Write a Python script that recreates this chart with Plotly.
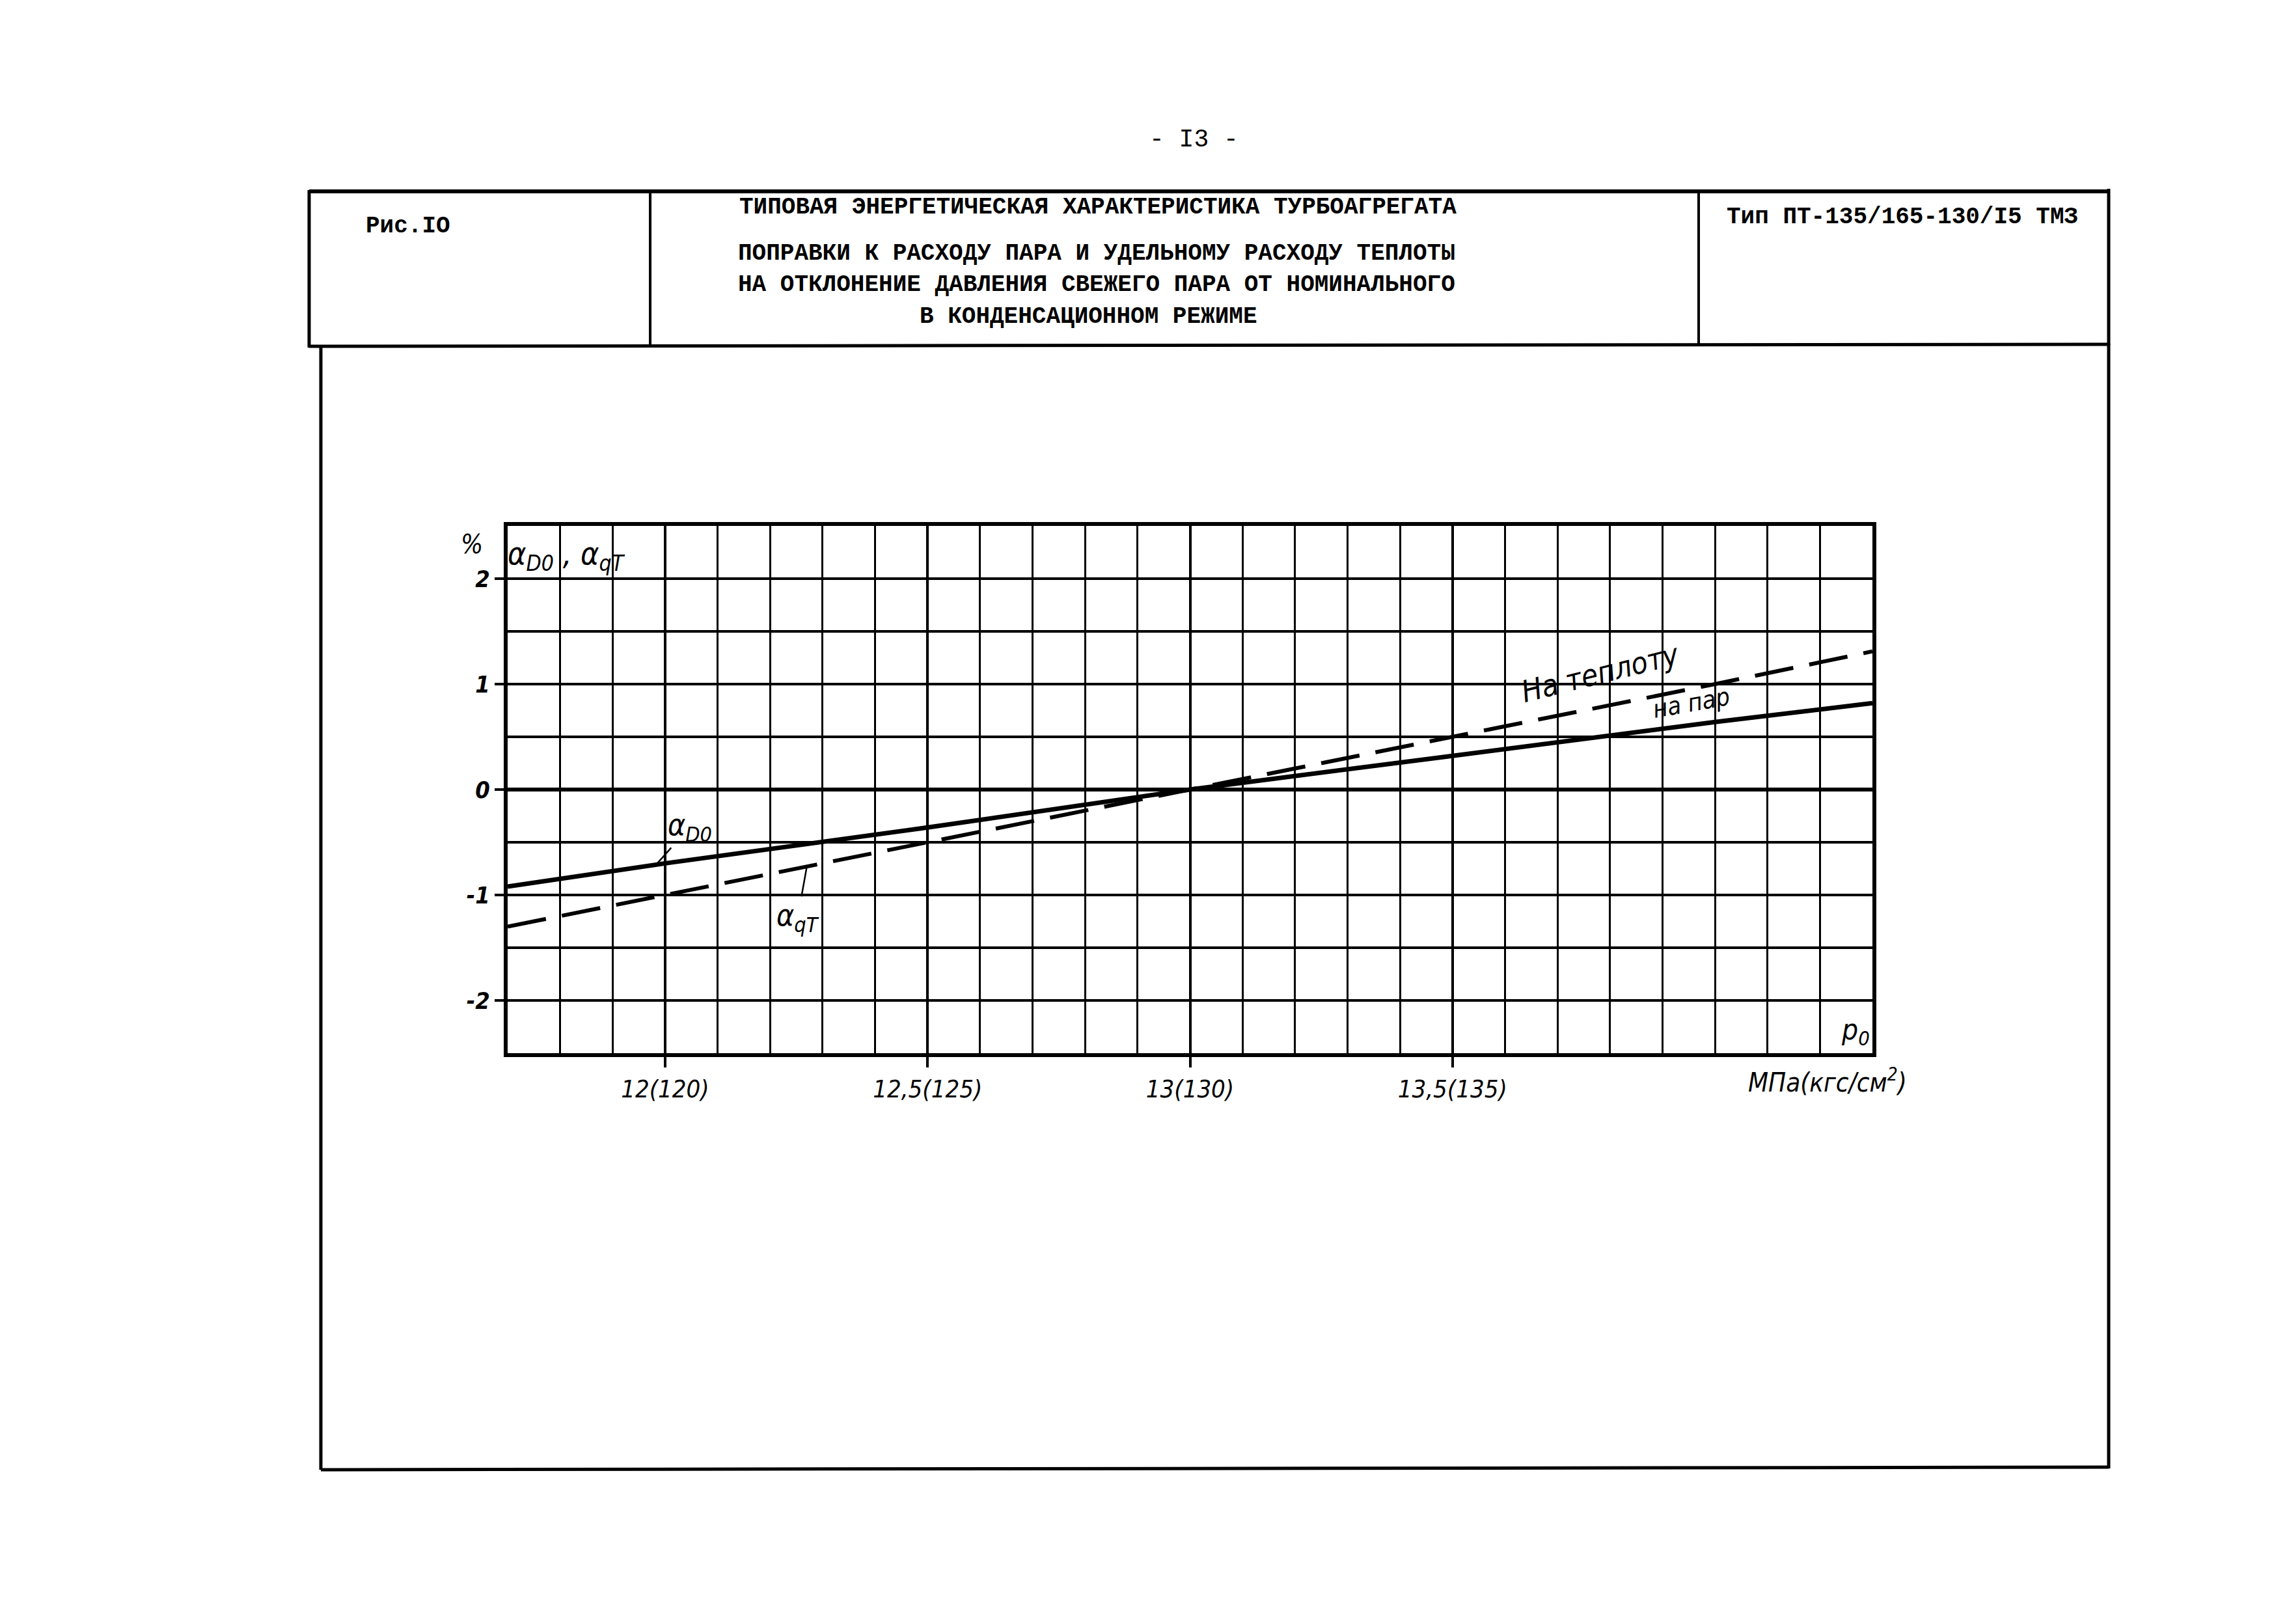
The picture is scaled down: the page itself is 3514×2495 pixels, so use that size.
import plotly.graph_objects as go

# ---------------- data ----------------
pressure = [11.7, 12.0, 12.5, 13.0, 13.5, 14.0, 14.3]          # МПа
alpha_D0 = [-0.92, -0.70, -0.36, 0.0, 0.32, 0.64, 0.82]        # % поправка к расходу пара
alpha_qT = [-1.30, -1.00, -0.50, 0.0, 0.50, 1.00, 1.31]        # % поправка к расходу теплоты

x_tickvals = [12.0, 12.5, 13.0, 13.5]
x_ticktext = ["12(120)", "12,5(125)", "13(130)", "13,5(135)"]
y_tickvals = [-2, -1, 0, 1, 2]
y_ticktext = ["-2", "-1", "0", "1", "2"]

# ---------------- page geometry (pixels) ----------------
W, H = 3514, 2495
L, R, T, B = 772, 2869, 800, 1610


def px(x):
    return (x - L) / (R - L)


def py(y):
    return (B - y) / (B - T)


hand = "Liberation Sans Narrow, DejaVu Sans Condensed, Liberation Sans, sans-serif"
mono = "Liberation Mono, DejaVu Sans Mono, monospace"

fig = go.Figure()
fig.add_trace(go.Scatter(x=pressure, y=alpha_D0, mode="lines",
                         line=dict(color="black", width=7), name="на пар"))
fig.add_trace(go.Scatter(x=pressure, y=alpha_qT, mode="lines",
                         line=dict(color="black", width=6, dash="60px,25px"),
                         name="на теплоту"))

axis_common = dict(showline=True, linecolor="black", linewidth=6, mirror=True,
                   gridcolor="black", zeroline=True, zerolinecolor="black",
                   zerolinewidth=6)

fig.update_xaxes(range=[11.7, 14.3], tickmode="array", tickvals=x_tickvals,
                 ticktext=x_ticktext, ticks="outside", ticklen=16, tickwidth=4,
                 tickcolor="black", showgrid=True, gridwidth=4,
                 minor=dict(tick0=11.7, dtick=0.1, showgrid=True,
                            gridcolor="black", gridwidth=3),
                 tickfont=dict(family=hand, size=38, color="black", style="italic"),
                 **axis_common)
fig.update_yaxes(range=[-2.5, 2.5], tickmode="array", tickvals=y_tickvals,
                 ticktext=y_ticktext, ticks="outside", ticklen=14, tickwidth=4,
                 tickcolor="black", showgrid=True, gridwidth=4,
                 minor=dict(tick0=-2.5, dtick=0.5, showgrid=True,
                            gridcolor="black", gridwidth=4),
                 tickfont=dict(family=hand, size=36, color="black", style="italic",
                               weight="bold"),
                 **axis_common)

# ---------------- frame / header shapes ----------------
shapes = []


def pline(x0, y0, x1, y1, w=5):
    shapes.append(dict(type="line", xref="paper", yref="paper",
                       x0=px(x0), x1=px(x1), y0=py(y0), y1=py(y1),
                       line=dict(color="black", width=w)))


def pbar(x0, y0, x1, y1):
    shapes.append(dict(type="rect", xref="paper", yref="paper",
                       x0=px(x0), x1=px(x1), y0=py(y1), y1=py(y0),
                       fillcolor="black", line=dict(width=0)))


# header box
pbar(467, 283, 3234, 289)           # top (filled bar)
pline(467, 286, 3232, 286)
pline(467, 524, 3232, 521)          # bottom
pline(467, 284, 467, 526)           # left
pline(3232, 282, 3232, 522)         # right
pline(991, 284, 991, 522, 4)        # dividers
pline(2602, 284, 2602, 520, 4)
# lower frame
pline(485, 524, 485, 2250)
pline(3232, 520, 3232, 2248)
pline(485, 2250, 3232, 2246)
fig.update_layout(shapes=shapes)

# ---------------- texts ----------------
ann = []


def ptext(text, x, y, size, family=mono, bold=True, xanchor="center",
          angle=0, italic=False):
    ann.append(dict(text=text, xref="paper", yref="paper", x=px(x), y=py(y),
                    xanchor=xanchor, yanchor="middle", showarrow=False,
                    textangle=angle,
                    font=dict(family=family, size=size, color="black",
                              weight="bold" if bold else "normal",
                              style="italic" if italic else "normal")))


ptext("- I3 -", 1826, 206, 38, bold=False)
ptext("Рис.IO", 552, 340, 36, xanchor="left")
ptext("ТИПОВАЯ ЭНЕРГЕТИЧЕСКАЯ ХАРАКТЕРИСТИКА ТУРБОАГРЕГАТА", 1679, 310, 36)
ptext("ПОПРАВКИ К РАСХОДУ ПАРА И УДЕЛЬНОМУ РАСХОДУ ТЕПЛОТЫ", 1677, 381, 36)
ptext("НА ОТКЛОНЕНИЕ ДАВЛЕНИЯ СВЕЖЕГО ПАРА ОТ НОМИНАЛЬНОГО", 1677, 429, 36)
ptext("В КОНДЕНСАЦИОННОМ РЕЖИМЕ", 1664, 479, 36)
ptext("Тип ПТ-135/165-130/I5 ТМЗ", 2643, 326, 36, xanchor="left")

# chart hand lettering
ptext("%", 717, 828, 40, family=hand, bold=False, italic=True)
ptext("α<sub>D0</sub> , α<sub>qT</sub>", 862, 845, 48, family=hand, bold=False, italic=True)
ptext("На теплоту", 2450, 1026, 46, family=hand, bold=False, italic=True, angle=-14)
ptext("на пар", 2590, 1072, 38, family=hand, bold=False, italic=True, angle=-10)
ptext("p<sub>0</sub>", 2843, 1576, 44, family=hand, bold=False, italic=True)
ptext("МПа(кгс/см<sup>2</sup>)", 2800, 1652, 40, family=hand, bold=False, italic=True)

# leader-line labels pointing to curves
ann.append(dict(text="α<sub>D0</sub>", x=11.985, y=-0.70, xref="x", yref="y",
                showarrow=True, arrowhead=0, arrowwidth=2.5, arrowcolor="black",
                ax=50, ay=-56, standoff=0,
                font=dict(family=hand, size=46, color="black", style="italic")))
ann.append(dict(text="α<sub>qT</sub>", x=12.27, y=-0.73, xref="x", yref="y",
                showarrow=True, arrowhead=0, arrowwidth=2.5, arrowcolor="black",
                ax=-14, ay=78, standoff=0,
                font=dict(family=hand, size=46, color="black", style="italic")))

fig.update_layout(annotations=ann)

fig.update_layout(width=W, height=H, autosize=False,
                  margin=dict(l=L, r=W - R, t=T, b=H - B, pad=0),
                  paper_bgcolor="white", plot_bgcolor="white",
                  showlegend=False)

fig.write_html("out.html")
